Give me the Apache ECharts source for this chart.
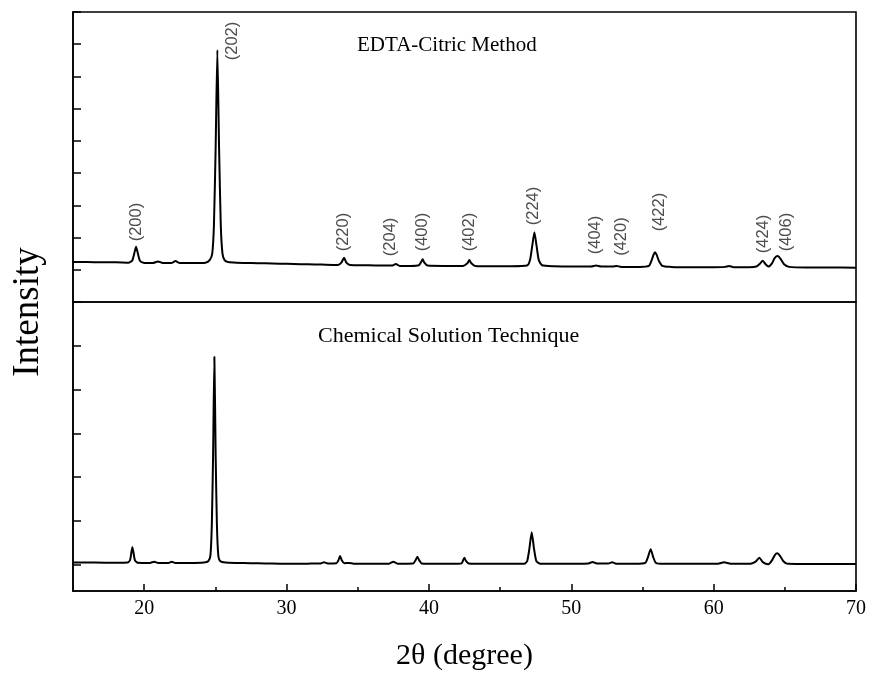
<!DOCTYPE html>
<html><head><meta charset="utf-8">
<script src="https://cdn.jsdelivr.net/npm/echarts@6/dist/echarts.min.js"></script>
<style>html,body{margin:0;padding:0;background:#fff}#c{width:871px;height:675px}</style>
</head><body><div id="c"></div>
<script>
// 2θ (degree), intensity (arbitrary units)
const edtaData = [[15.0,0.24],[16.0,0.24],[17.0,0.23],[18.0,0.23],[18.9,0.22],[19.15,0.28],[19.3,0.5],[19.43,0.716],[19.56,0.5],[19.7,0.28],[19.95,0.22],[20.6,0.21],[20.97,0.26],[21.3,0.21],[21.9,0.21],[22.2,0.27],[22.5,0.21],[23.5,0.21],[24.3,0.22],[24.6,0.3],[24.78,0.5],[24.9,1.4],[25.02,3.8],[25.14,6.82],[25.26,3.8],[25.38,1.4],[25.5,0.5],[25.65,0.3],[25.9,0.24],[26.5,0.22],[27.5,0.21],[28.5,0.2],[29.5,0.19],[30.5,0.18],[31.5,0.17],[32.5,0.16],[33.6,0.15],[33.85,0.22],[34.04,0.375],[34.2,0.22],[34.45,0.15],[35.5,0.14],[36.5,0.13],[37.4,0.13],[37.67,0.18],[37.95,0.12],[38.7,0.12],[39.3,0.14],[39.45,0.24],[39.56,0.325],[39.68,0.22],[39.9,0.13],[41.0,0.12],[42.4,0.12],[42.7,0.2],[42.84,0.3],[42.98,0.2],[43.25,0.12],[44.5,0.11],[45.8,0.11],[46.9,0.13],[47.1,0.3],[47.26,0.75],[47.41,1.163],[47.56,0.75],[47.72,0.3],[47.95,0.14],[48.8,0.11],[50.0,0.1],[51.4,0.1],[51.74,0.13],[52.1,0.1],[52.9,0.1],[53.19,0.12],[53.5,0.09],[54.8,0.09],[55.45,0.12],[55.65,0.3],[55.78,0.47],[55.88,0.543],[56.0,0.46],[56.15,0.28],[56.4,0.12],[57.0,0.09],[58.5,0.08],[60.0,0.08],[60.8,0.09],[61.08,0.12],[61.4,0.08],[62.5,0.08],[63.0,0.1],[63.25,0.19],[63.45,0.282],[63.65,0.17],[63.85,0.1],[64.1,0.2],[64.3,0.37],[64.5,0.428],[64.7,0.34],[64.95,0.17],[65.3,0.09],[66.5,0.07],[68.0,0.07],[70.0,0.065]];
const chemData = [[15.0,0.05],[16.5,0.05],[18.0,0.045],[18.85,0.05],[19.02,0.12],[19.1,0.28],[19.17,0.398],[19.25,0.28],[19.35,0.1],[19.55,0.045],[20.4,0.04],[20.71,0.07],[21.0,0.04],[21.7,0.04],[21.93,0.07],[22.2,0.04],[23.2,0.04],[24.2,0.05],[24.5,0.08],[24.65,0.2],[24.75,0.9],[24.84,2.5],[24.93,4.749],[25.02,2.5],[25.11,0.9],[25.21,0.2],[25.35,0.08],[25.7,0.05],[26.5,0.04],[27.5,0.035],[28.5,0.03],[29.5,0.025],[30.5,0.02],[31.5,0.025],[32.4,0.03],[32.63,0.055],[32.9,0.03],[33.5,0.035],[33.64,0.1],[33.76,0.2],[33.88,0.1],[34.05,0.035],[34.4,0.04],[34.7,0.025],[36.0,0.02],[37.2,0.025],[37.5,0.07],[37.8,0.025],[38.9,0.03],[39.06,0.1],[39.19,0.183],[39.32,0.1],[39.5,0.03],[40.5,0.02],[41.8,0.02],[42.3,0.03],[42.39,0.09],[42.49,0.16],[42.6,0.09],[42.8,0.03],[44.0,0.02],[45.5,0.02],[46.7,0.025],[46.9,0.08],[47.05,0.35],[47.22,0.74],[47.39,0.35],[47.55,0.08],[47.8,0.025],[49.0,0.02],[50.5,0.02],[51.2,0.03],[51.5,0.06],[51.8,0.03],[52.6,0.03],[52.88,0.055],[53.2,0.02],[54.5,0.02],[55.2,0.04],[55.38,0.17],[55.58,0.352],[55.76,0.17],[55.95,0.04],[56.5,0.02],[58.0,0.02],[60.3,0.02],[60.73,0.055],[61.2,0.02],[62.6,0.025],[62.95,0.07],[63.21,0.16],[63.45,0.06],[63.84,0.01],[64.1,0.1],[64.3,0.22],[64.47,0.26],[64.65,0.21],[64.9,0.08],[65.2,0.02],[67.0,0.016],[70.0,0.016]];

const hklNames   = ['(200)','(202)','(220)','(204)','(400)','(402)','(224)','(404)','(420)','(422)','(424)','(406)'];
const hklTheta   = [19.47, 26.17, 34.0, 37.32, 39.56, 42.84, 47.33, 51.67, 53.54, 56.18, 63.49, 65.13];
const hklLabelI  = [1.48, 7.10, 1.17, 1.02, 1.17, 1.17, 1.98, 1.08, 1.03, 1.79, 1.11, 1.17];

const xMajorTicks = [20, 30, 40, 50, 60, 70];
const xMinorTicks = [25, 35, 45, 55, 65];
const chemYTicks  = [0, 1, 2, 3, 4, 5];

const panelTitles = ['EDTA-Citric Method', 'Chemical Solution Technique'];
const xName = '2θ (degree)';
const yName = 'Intensity';

const serif = '"Liberation Serif", "DejaVu Serif", serif';
const black = '#000';
const L = 73, W = 783;

const chart = echarts.init(document.getElementById('c'), null, {renderer: 'canvas'});
chart.setOption({
  animation: false,
  backgroundColor: '#fff',
  grid: [
    {left: L, top: 12, width: W, height: 290, show: true, borderColor: black, borderWidth: 1.6, backgroundColor: 'transparent'},
    {left: L, top: 302, width: W, height: 289, show: true, borderColor: black, borderWidth: 1.6, backgroundColor: 'transparent'}
  ],
  xAxis: [
    {type: 'value', gridIndex: 0, min: 15, max: 70, axisLine: {show: false}, axisTick: {show: false}, axisLabel: {show: false}, splitLine: {show: false}},
    {type: 'value', gridIndex: 1, min: 15, max: 70,
      axisLine: {show: true, onZero: false, lineStyle: {color: black, width: 1.6}},
      axisTick: {show: true, inside: true, length: 7, customValues: xMajorTicks, lineStyle: {color: black, width: 1.5}},
      axisLabel: {show: true, customValues: xMajorTicks, color: black, fontFamily: serif, fontSize: 20, margin: 8},
      splitLine: {show: false},
      name: xName, nameLocation: 'middle', nameGap: 50,
      nameTextStyle: {color: black, fontFamily: serif, fontSize: 30}
    },
    {type: 'value', gridIndex: 1, min: 15, max: 70, position: 'bottom',
      axisLine: {show: false, onZero: false},
      axisTick: {show: true, inside: true, length: 4, customValues: xMinorTicks, lineStyle: {color: black, width: 1.5}},
      axisLabel: {show: false}, splitLine: {show: false}
    }
  ],
  yAxis: [
    {type: 'value', gridIndex: 0, min: -1, max: 8, interval: 1,
      axisLine: {show: true, onZero: false, lineStyle: {color: black, width: 1.6}},
      axisTick: {show: true, inside: true, length: 8, lineStyle: {color: black, width: 1.5}},
      axisLabel: {show: false}, splitLine: {show: false}},
    {type: 'value', gridIndex: 1, min: -0.6, max: 6,
      axisLine: {show: true, onZero: false, lineStyle: {color: black, width: 1.6}},
      axisTick: {show: true, inside: true, length: 8, customValues: chemYTicks, lineStyle: {color: black, width: 1.5}},
      axisLabel: {show: false}, splitLine: {show: false}}
  ],
  series: [
    {type: 'line', xAxisIndex: 0, yAxisIndex: 0, data: edtaData, showSymbol: false, smooth: 0.2,
      lineStyle: {color: black, width: 2}, silent: true},
    {type: 'line', xAxisIndex: 1, yAxisIndex: 1, data: chemData, showSymbol: false, smooth: 0.2,
      lineStyle: {color: black, width: 2}, silent: true},
    {type: 'scatter', xAxisIndex: 0, yAxisIndex: 0, symbolSize: 0, silent: true,
      data: hklNames.map((n, i) => ({name: n, value: [hklTheta[i], hklLabelI[i]]})),
      label: {show: true, position: 'inside', rotate: 90, formatter: p => p.name,
        fontFamily: '"Liberation Sans", Arial, sans-serif', fontSize: 16.5, color: '#222'}}
  ],
  graphic: [
    {type: 'text', left: 357, top: 35, style: {text: panelTitles[0], font: '21px ' + serif, fill: black}},
    {type: 'text', left: 318, top: 325, style: {text: panelTitles[1], font: '22px ' + serif, fill: black}},
    {type: 'text', x: 28, y: 312, rotation: Math.PI / 2,
      style: {text: yName, font: '37px ' + serif, fill: black, align: 'center', verticalAlign: 'middle'}}
  ]
});
</script></body></html>
